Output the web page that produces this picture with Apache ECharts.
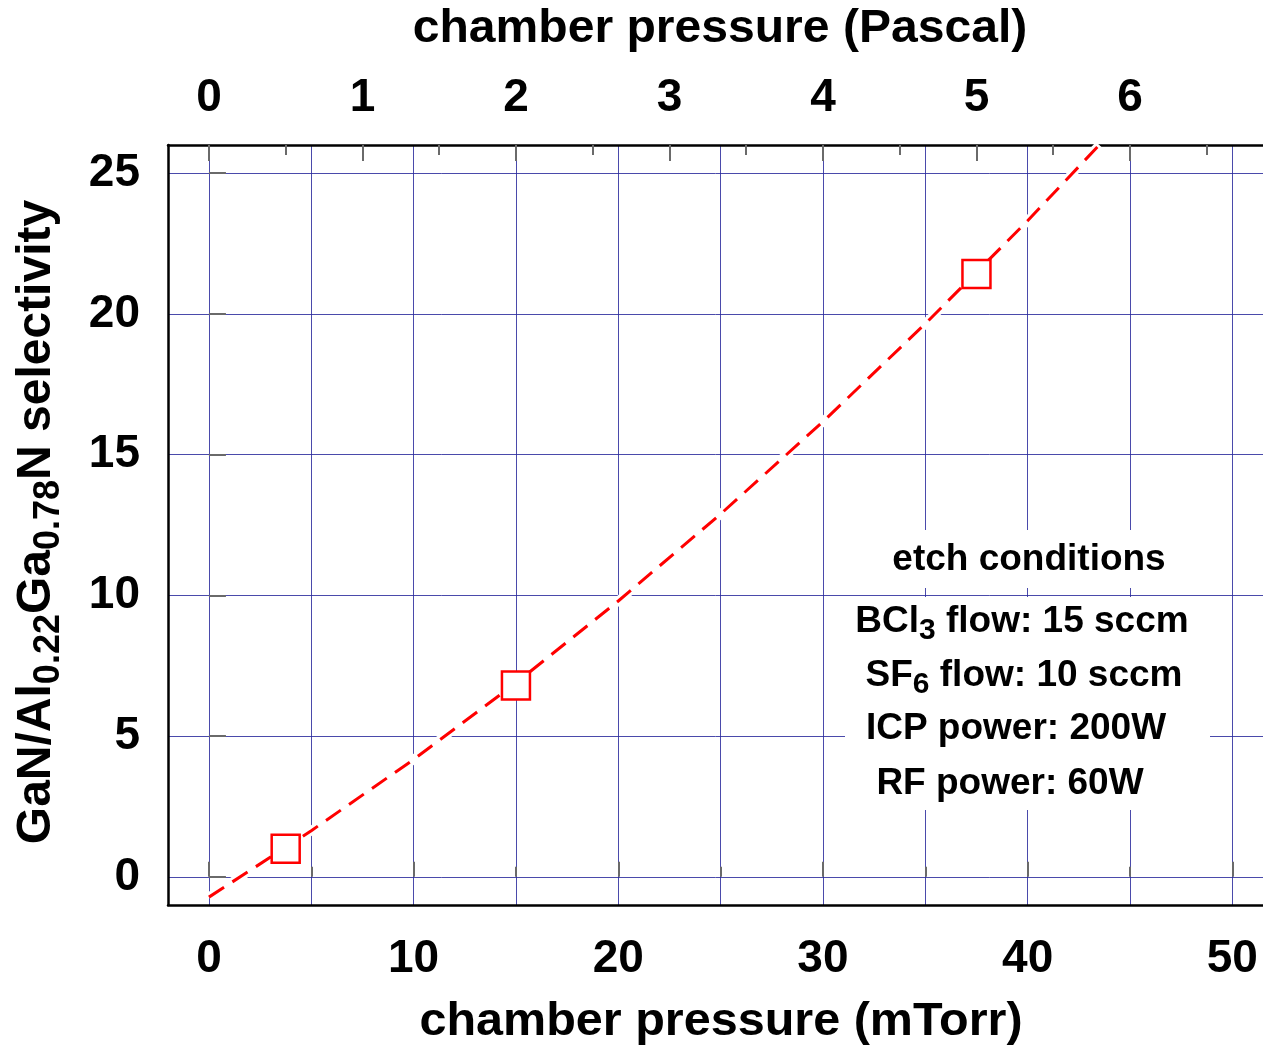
<!DOCTYPE html>
<html>
<head>
<meta charset="utf-8">
<script src="https://cdn.jsdelivr.net/npm/echarts@6/dist/echarts.min.js"></script>
<style>
html,body{margin:0;padding:0;background:#fff;}
#chart{width:1263px;height:1050px;}
</style>
</head>
<body>
<div id="chart"></div>
<script>
// ---- data ----
const pressureMTorr = [3.75, 15, 37.5];
const selectivity = [1.0, 6.8, 21.42];
const fitMTorr = [0, 5, 10, 15, 20, 25, 30, 35, 40, 43.5];
const fitSelectivity = [-0.72, 1.64, 4.17, 6.89, 9.8, 12.89, 16.17, 19.65, 23.31, 26.0];

// ---- tick labels ----
const mTorrTicks = [0, 10, 20, 30, 40, 50];
const mTorrMinorTicks = [0, 5, 10, 15, 20, 25, 30, 35, 40, 45, 50];
const pascalTicks = [0, 1, 2, 3, 4, 5, 6];
const pascalMinorTicks = [0.5, 1.5, 2.5, 3.5, 4.5, 5.5, 6.5];
const selectivityTicks = [0, 5, 10, 15, 20, 25];

const xMin = -2, xMax = 51.5;          // mTorr
const yMin = -1, yMax = 26;
const MTORR_PER_PA = 7.5;

const FONT = 'Liberation Sans, Arial, Helvetica, sans-serif';
const GRID_COLOR = '#2a2a9c';
const TICK_COLOR = '#6a6a6a';

const chart = echarts.init(document.getElementById('chart'), null, {renderer: 'canvas'});

const labelStyle = {fontSize: 46, fontWeight: 'bold', fontFamily: FONT, color: '#000'};
const noLine = {show: false};
const noLabel = {show: false};
const noSplit = {show: false};

function tickAxis(position, min, max, values, length) {
  return {
    type: 'value', position: position, min: min, max: max, z: 1,
    axisLine: noLine, axisLabel: noLabel, splitLine: noSplit,
    axisTick: {show: true, inside: true, length: length, customValues: values,
               lineStyle: {color: TICK_COLOR, width: 2}}
  };
}

const pMin = xMin / MTORR_PER_PA, pMax = xMax / MTORR_PER_PA;

const option = {
  backgroundColor: '#fff',
  animation: false,
  grid: {left: 168, top: 145, width: 1095, height: 760, containLabel: false},
  xAxis: [
    { // 0: data axis, grid lines every 5 mTorr
      type: 'value', position: 'bottom', min: xMin, max: xMax, z: 0,
      axisLine: noLine, axisLabel: noLabel,
      axisTick: {show: false, customValues: mTorrMinorTicks},
      splitLine: {show: true, lineStyle: {color: GRID_COLOR, width: 1, opacity: 0.85}}
    },
    { // 1: bottom axis line + labels
      type: 'value', position: 'bottom', min: xMin, max: xMax, z: 1,
      axisLine: {show: true, onZero: false, lineStyle: {color: '#000', width: 2.5}},
      axisTick: {show: false, customValues: mTorrTicks},
      axisLabel: Object.assign({show: true, margin: 31, customValues: mTorrTicks}, labelStyle),
      splitLine: noSplit
    },
    tickAxis('bottom', xMin, xMax, mTorrTicks, 15),
    tickAxis('bottom', xMin, xMax, mTorrMinorTicks, 10),
    { // 4: top axis in Pascal
      type: 'value', position: 'top', min: pMin, max: pMax, z: 1,
      axisLine: {show: true, onZero: false, lineStyle: {color: '#000', width: 2.5}},
      axisTick: {show: false, customValues: pascalTicks},
      axisLabel: Object.assign({show: true, margin: 24, customValues: pascalTicks}, labelStyle),
      splitLine: noSplit
    },
    tickAxis('top', pMin, pMax, pascalTicks, 16),
    tickAxis('top', pMin, pMax, pascalMinorTicks, 10)
  ],
  yAxis: [
    { // 0: data axis, horizontal grid lines
      type: 'value', position: 'left', min: yMin, max: yMax, z: 0,
      axisLine: noLine, axisLabel: noLabel,
      axisTick: {show: false, customValues: selectivityTicks},
      splitLine: {show: true, lineStyle: {color: GRID_COLOR, width: 1, opacity: 0.85}}
    },
    { // 1: left axis line + labels
      type: 'value', position: 'left', min: yMin, max: yMax, z: 1,
      axisLine: {show: true, onZero: false, lineStyle: {color: '#000', width: 2.5}},
      axisTick: {show: false, customValues: selectivityTicks},
      axisLabel: Object.assign({show: true, margin: 28, padding: [0, 0, 8, 0],
                                customValues: selectivityTicks}, labelStyle),
      splitLine: noSplit
    },
    tickAxis('left', yMin, yMax, selectivityTicks, 17)
  ],
  series: [
    { // white halo under the fit
      type: 'line', xAxisIndex: 0, yAxisIndex: 0, z: 2, silent: true,
      data: fitMTorr.map((x, i) => [x, fitSelectivity[i]]),
      showSymbol: false, symbol: 'none',
      lineStyle: {color: '#fff', width: 9, type: 'solid'}
    },
    { // dashed fit
      type: 'line', xAxisIndex: 0, yAxisIndex: 0, z: 3, silent: true,
      data: fitMTorr.map((x, i) => [x, fitSelectivity[i]]),
      showSymbol: false, symbol: 'none',
      lineStyle: {color: '#ff0000', width: 3, type: [18, 10]}
    },
    { // measured points
      type: 'scatter', xAxisIndex: 0, yAxisIndex: 0, z: 4,
      data: pressureMTorr.map((x, i) => [x, selectivity[i]]),
      symbol: 'rect', symbolSize: 28,
      itemStyle: {color: '#fff', borderColor: '#ff0000', borderWidth: 2.5, opacity: 1}
    }
  ],
  graphic: [
    // axis titles
    {type: 'text', x: 720, y: 29, z: 5, scaleX: 1.045,
     style: {text: 'chamber pressure (Pascal)', fontSize: 46, fontWeight: 'bold', fontFamily: FONT,
             fill: '#000', align: 'center', verticalAlign: 'middle',
             textAlign: 'center', textVerticalAlign: 'middle'}},
    {type: 'text', x: 721, y: 1022, z: 5, scaleX: 1.055,
     style: {text: 'chamber pressure (mTorr)', fontSize: 46, fontWeight: 'bold', fontFamily: FONT,
             fill: '#000', align: 'center', verticalAlign: 'middle',
             textAlign: 'center', textVerticalAlign: 'middle'}},
    {type: 'text', x: 37, y: 522, z: 5, rotation: Math.PI / 2,
     style: {text: '{m|GaN/Al}{s|0.22}{m|Ga}{s|0.78}{m|N selectivity}',
             fontSize: 48, fontWeight: 'bold', fontFamily: FONT, fill: '#000',
             align: 'center', verticalAlign: 'middle', textAlign: 'center', textVerticalAlign: 'middle',
             rich: {
               m: {fontSize: 48, fontWeight: 'bold', fontFamily: FONT, lineHeight: 61, verticalAlign: 'middle', fill: '#000'},
               s: {fontSize: 36, fontWeight: 'bold', fontFamily: FONT, lineHeight: 36, verticalAlign: 'bottom', fill: '#000'}
             }}},
    // etch conditions box
    {type: 'rect', z: 1, shape: {x: 845, y: 530, width: 365, height: 58}, style: {fill: '#fff'}},
    {type: 'rect', z: 1, shape: {x: 845, y: 597, width: 365, height: 213}, style: {fill: '#fff'}},
    {type: 'text', x: 1029, y: 560, z: 5,
     style: {text: 'etch conditions', fontSize: 37, fontWeight: 'bold', fontFamily: FONT, fill: '#000',
             align: 'center', verticalAlign: 'middle', textAlign: 'center', textVerticalAlign: 'middle'}},
    {type: 'text', x: 1022, y: 622, z: 5,
     style: {text: '{m|BCl}{s|3}{m| flow: 15 sccm}', fontSize: 37, fontWeight: 'bold', fontFamily: FONT, fill: '#000',
             align: 'center', verticalAlign: 'middle', textAlign: 'center', textVerticalAlign: 'middle',
             rich: {
               m: {fontSize: 37, fontWeight: 'bold', fontFamily: FONT, lineHeight: 48, verticalAlign: 'middle', fill: '#000'},
               s: {fontSize: 30, fontWeight: 'bold', fontFamily: FONT, lineHeight: 30, verticalAlign: 'bottom', fill: '#000'}
             }}},
    {type: 'text', x: 1024, y: 675.5, z: 5,
     style: {text: '{m|SF}{s|6}{m| flow: 10 sccm}', fontSize: 37, fontWeight: 'bold', fontFamily: FONT, fill: '#000',
             align: 'center', verticalAlign: 'middle', textAlign: 'center', textVerticalAlign: 'middle',
             rich: {
               m: {fontSize: 37, fontWeight: 'bold', fontFamily: FONT, lineHeight: 48, verticalAlign: 'middle', fill: '#000'},
               s: {fontSize: 30, fontWeight: 'bold', fontFamily: FONT, lineHeight: 30, verticalAlign: 'bottom', fill: '#000'}
             }}},
    {type: 'text', x: 1016, y: 729, z: 5,
     style: {text: 'ICP power: 200W', fontSize: 37, fontWeight: 'bold', fontFamily: FONT, fill: '#000',
             align: 'center', verticalAlign: 'middle', textAlign: 'center', textVerticalAlign: 'middle'}},
    {type: 'text', x: 1010, y: 784, z: 5,
     style: {text: 'RF power: 60W', fontSize: 37, fontWeight: 'bold', fontFamily: FONT, fill: '#000',
             align: 'center', verticalAlign: 'middle', textAlign: 'center', textVerticalAlign: 'middle'}}
  ]
};

chart.setOption(option);
</script>
</body>
</html>
